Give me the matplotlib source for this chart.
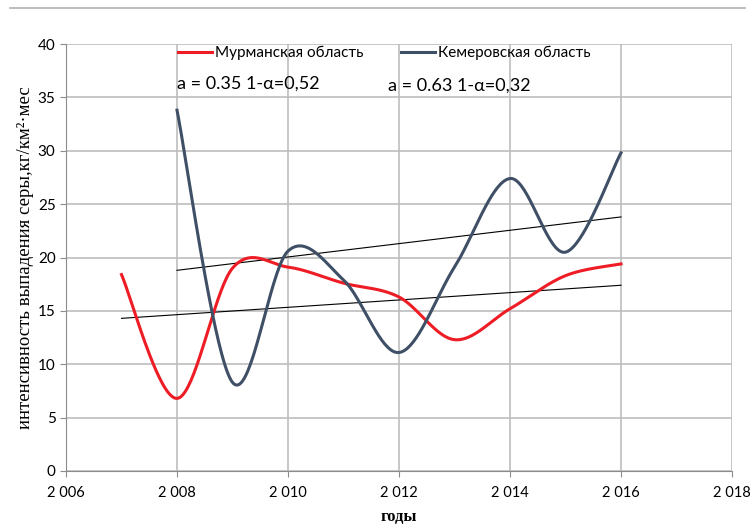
import numpy as np
import matplotlib
matplotlib.use("Agg")
import matplotlib.pyplot as plt
from matplotlib.ticker import FuncFormatter, MultipleLocator

years_m = [2007, 2008, 2009, 2010, 2011, 2012, 2013, 2014, 2015, 2016]
murmansk = [18.4, 6.8, 19.0, 19.1, 17.6, 16.3, 12.3, 15.2, 18.3, 19.4]
years_k = [2008, 2009, 2010, 2011, 2012, 2013, 2014, 2015, 2016]
kemerovo = [33.8, 8.3, 20.6, 17.9, 11.1, 19.1, 27.4, 20.5, 29.8]
trend_m_years = [2007, 2016]
trend_m = [14.3, 17.4]
trend_k_years = [2008, 2016]
trend_k = [18.8, 23.8]
label_m = "Мурманская область"
label_k = "Кемеровская область"
note_m = "a = 0.35 1-α=0,52"
note_k = "a = 0.63 1-α=0,32"
ylabel = "интенсивность выпадения серы,кг/км²·мес"
xlabel = "годы"

FONT = "Lato"

def smooth(x, y, n=40):
    x = np.asarray(x, float); y = np.asarray(y, float)
    P = np.column_stack([x, y])
    out = []
    for i in range(len(P) - 1):
        p0 = P[i - 1] if i > 0 else P[i]
        p3 = P[i + 2] if i + 2 < len(P) else P[i + 1]
        p1, p2 = P[i], P[i + 1]
        c1 = p1 + (p2 - p0) / 6.0
        c2 = p2 - (p3 - p1) / 6.0
        t = np.linspace(0, 1, n)[:, None]
        seg = ((1 - t) ** 3) * p1 + 3 * ((1 - t) ** 2) * t * c1 + 3 * (1 - t) * t ** 2 * c2 + t ** 3 * p2
        out.append(seg if i == 0 else seg[1:])
    a = np.vstack(out)
    return a[:, 0], a[:, 1]

fig = plt.figure(figsize=(7.5, 5.28), dpi=100)
ax = fig.add_axes([66 / 750, 1 - 471 / 528, (732 - 66) / 750, (471 - 44) / 528])

sx, sy = smooth(years_m, murmansk)
lm, = ax.plot(sx, sy, color="#ee1c24", lw=2.2, zorder=3)
kx, ky = smooth(years_k, kemerovo)
lk, = ax.plot(kx, ky, color="#3e4f66", lw=2.2, zorder=3)
ax.plot(trend_m_years, trend_m, color="black", lw=0.8, zorder=2)
ax.plot(trend_k_years, trend_k, color="black", lw=0.8, zorder=2)

ax.set_xlim(2006, 2018)
ax.set_ylim(0, 40)
ax.xaxis.set_major_locator(MultipleLocator(2))
ax.yaxis.set_major_locator(MultipleLocator(5))
ax.xaxis.set_major_formatter(FuncFormatter(lambda v, p: f"{int(v):,}".replace(",", " ")))
ax.grid(True, color="#bdbdbd", lw=1.2)
ax.set_axisbelow(True)
for s in ["top", "right"]:
    ax.spines[s].set_visible(False)
for s in ["left", "bottom"]:
    ax.spines[s].set_color("#8c8c8c")
ax.tick_params(axis="both", colors="#8c8c8c", length=4, labelsize=11, labelcolor="black")
ax.tick_params(axis="x", labelsize=10.5, pad=7)
for lab in ax.get_xticklabels() + ax.get_yticklabels():
    lab.set_fontfamily(FONT)

def px2ax(xp, yp):
    return ((xp - 66) / (732 - 66), (471 - yp) / (471 - 44))

legkw = dict(loc="upper left", frameon=False, borderpad=0, borderaxespad=0,
             handlelength=2.2, handletextpad=0.2, prop={"family": FONT, "size": 11})
leg1 = ax.legend([lm], [label_m], bbox_to_anchor=px2ax(178, 46), **legkw)
ax.add_artist(leg1)
leg2 = ax.legend([lk], [label_k], bbox_to_anchor=px2ax(401, 46), **legkw)

ax.text(2008, 35.85, note_m, fontsize=13, family=FONT, va="baseline")
ax.text(2011.8, 35.65, note_k, fontsize=13, family=FONT, va="baseline")

ax.set_ylabel(ylabel, family="Liberation Serif", fontsize=13.5, labelpad=3)
ax.set_xlabel(xlabel, family="Liberation Serif", fontsize=12, fontweight="bold", labelpad=6)

fig.add_artist(plt.Line2D([10 / 750, 745 / 750], [1 - 8 / 528] * 2, color="#b0b0b0", lw=1.2))

fig.savefig("out.png", dpi=100)
